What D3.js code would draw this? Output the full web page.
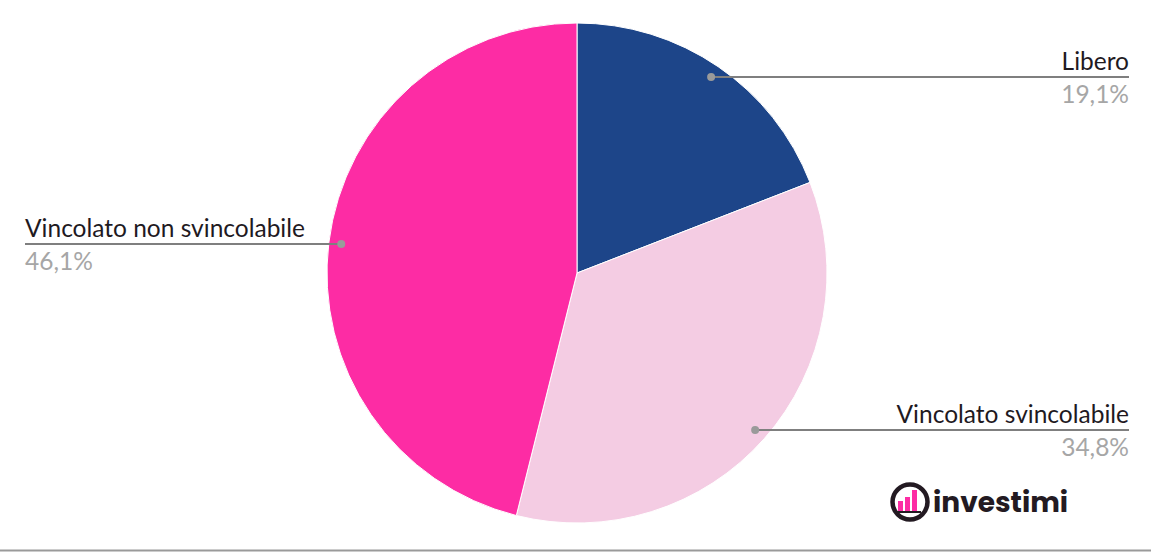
<!DOCTYPE html>
<html>
<head>
<meta charset="utf-8">
<script src="https://cdn.jsdelivr.net/npm/d3@7"></script>
<style>
  body { margin: 0; background: #fff; }
  svg { display: block; }
</style>
</head>
<body>
<svg id="chart" width="1151" height="554"></svg>
<script>
// Chart data
const categories = ["Libero", "Vincolato svincolabile", "Vincolato non svincolabile"];
const values = [19.1, 34.8, 46.1];
const colors = ["#1d4589", "#f4cce3", "#fd2ca4"];
const valueLabels = ["19,1%", "34,8%", "46,1%"];
const labelSide = ["right", "right", "left"];

const width = 1151, height = 554;
const cx = 577, cy = 273, radius = 250;
const font = "Lato, 'Open Sans', sans-serif";

const svg = d3.select("#chart");

const pie = d3.pie().sort(null).value(d => d.value);
const arcs = pie(categories.map((c, i) => ({ name: c, value: values[i], i: i })));

const arc = d3.arc().innerRadius(0).outerRadius(radius);
const dotArc = d3.arc().innerRadius(radius * 0.95).outerRadius(radius * 0.95);

const g = svg.append("g").attr("transform", `translate(${cx},${cy})`);

g.selectAll("path")
    .data(arcs)
    .enter().append("path")
    .attr("d", arc)
    .attr("fill", d => colors[d.data.i])
    .attr("stroke", "#fff")
    .attr("stroke-width", 1);

// Leader lines + labels
const leftX = 25 - cx, rightX = 1129 - cx;

const labels = g.append("g").attr("class", "labels");
arcs.forEach(d => {
    const [px, py] = dotArc.centroid(d);
    const side = labelSide[d.data.i];
    const endX = side === "right" ? rightX : leftX;
    const anchor = side === "right" ? "end" : "start";

    labels.append("line")
        .attr("x1", px).attr("y1", py)
        .attr("x2", endX).attr("y2", py)
        .attr("stroke", "#7f7f7f")
        .attr("stroke-width", 2);

    labels.append("circle")
        .attr("cx", px).attr("cy", py)
        .attr("r", 4)
        .attr("fill", "#9a9a9a");

    labels.append("text")
        .attr("x", endX).attr("y", py - 7)
        .attr("text-anchor", anchor)
        .attr("font-family", font)
        .attr("font-size", 24.5)
        .attr("fill", "#1f1a1f")
        .text(d.data.name);

    labels.append("text")
        .attr("x", endX).attr("y", py + 26)
        .attr("text-anchor", anchor)
        .attr("font-family", font)
        .attr("font-size", 24.5)
        .attr("fill", "#a6a6a6")
        .text(valueLabels[d.data.i]);
});

// Bottom rule
svg.append("line")
    .attr("x1", 0).attr("x2", width)
    .attr("y1", 550.5).attr("y2", 550.5)
    .attr("stroke", "#9a9a9a")
    .attr("stroke-width", 2);

// Logo
const logo = svg.append("g").attr("transform", "translate(910,502)");
logo.append("circle")
    .attr("r", 17.5)
    .attr("fill", "none")
    .attr("stroke", "#231a22")
    .attr("stroke-width", 4.5);
const barHeights = [10, 14, 21];
barHeights.forEach((h, i) => {
    logo.append("rect")
        .attr("x", -12 + i * 7)
        .attr("y", 9 - h)
        .attr("width", 5)
        .attr("height", h)
        .attr("fill", "#fd2ca4");
});
logo.append("rect")
    .attr("x", -13).attr("y", 9)
    .attr("width", 24).attr("height", 2)
    .attr("fill", "#231a22");

svg.append("text")
    .attr("x", 933).attr("y", 512)
    .attr("font-family", "Poppins, Lato, 'Open Sans', sans-serif")
    .attr("font-weight", "bold")
    .attr("font-size", 28)
    .attr("fill", "#231a22")
    .text("investimi");
</script>
</body>
</html>
